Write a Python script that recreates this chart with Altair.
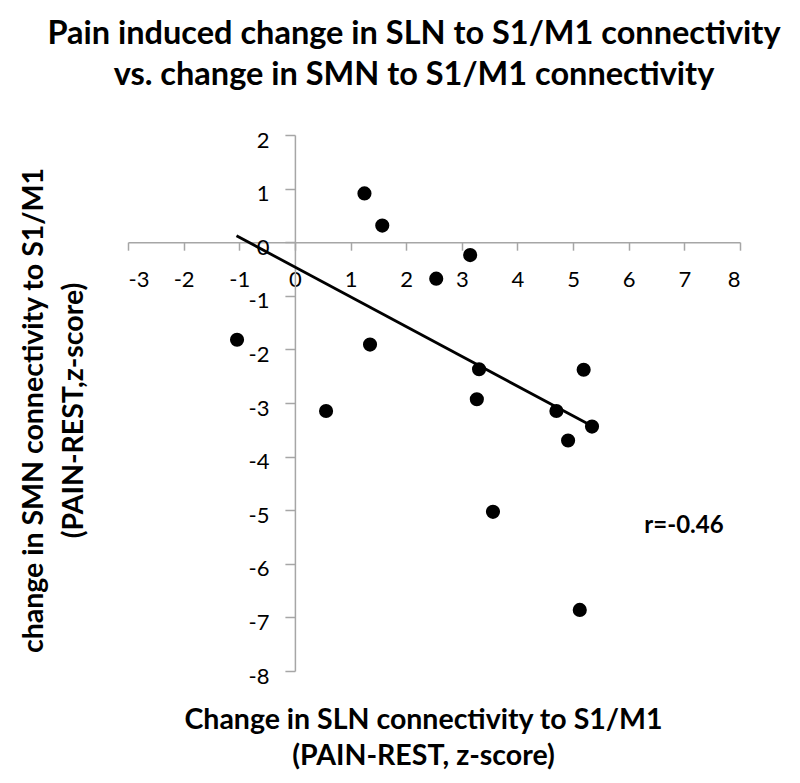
import altair as alt
import pandas as pd

# Data
sln_change = [1.25, 1.57, 3.15, 2.54, -1.04, 1.35, 3.31, 5.19, 3.27, 0.56, 4.70, 5.34, 4.91, 3.56, 5.12]
smn_change = [0.91, 0.31, -0.24, -0.68, -1.82, -1.91, -2.37, -2.38, -2.93, -3.15, -3.15, -3.44, -3.70, -5.03, -6.86]

trend_x = [-1.05, 5.34]
trend_y = [0.12, -3.43]

x_ticks = list(range(-3, 9))
y_ticks = list(range(-8, 3))

note_x = [6.28]
note_y = [-5.30]
note_text = ["r=-0.46"]

X_DOMAIN = [-3, 8]
Y_DOMAIN = [-8, 2]
W, H = 612, 536

# axes cross at origin: offsets computed from the scale domain
x_axis_offset = -(0 - Y_DOMAIN[0]) / (Y_DOMAIN[1] - Y_DOMAIN[0]) * H
y_axis_offset = -(0 - X_DOMAIN[0]) / (X_DOMAIN[1] - X_DOMAIN[0]) * W

points = pd.DataFrame({"x": sln_change, "y": smn_change})
trend = pd.DataFrame({"x": trend_x, "y": trend_y})
note = pd.DataFrame({"x": note_x, "y": note_y, "t": note_text})

FONT = "Lato"
AXIS_GRAY = "#a6a6a6"

xscale = alt.Scale(domain=X_DOMAIN, nice=False, zero=False)
yscale = alt.Scale(domain=Y_DOMAIN, nice=False, zero=False)

x_axis = alt.Axis(
    values=x_ticks, offset=x_axis_offset, grid=False,
    domainColor=AXIS_GRAY, domainWidth=1.5, tickColor=AXIS_GRAY, tickWidth=1.5, tickSize=8,
    labelFont=FONT, labelFontSize=22, labelColor="black", labelPadding=19,
    labelOverlap=False, labelExpr="'' + datum.value",
    title=["Change in SLN connectivity to S1/M1", "(PAIN-REST, z-score)"],
    titleFont=FONT, titleFontSize=28.5, titleFontWeight="bold", titleColor="black",
    titleLineHeight=36, titleBaseline="middle", titleAlign="center",
    titleX=295, titleY=477,
)
y_axis = alt.Axis(
    values=y_ticks, offset=y_axis_offset, grid=False,
    domainColor=AXIS_GRAY, domainWidth=1.5, tickColor=AXIS_GRAY, tickWidth=1.5, tickSize=10,
    labelFont=FONT, labelFontSize=22, labelColor="black", labelPadding=16, labelOffset=5,
    labelOverlap=False, labelExpr="'' + datum.value",
    title=["change in SMN connectivity to S1/M1", "(PAIN-REST,z-score)"],
    titleFont=FONT, titleFontSize=28.5, titleFontWeight="bold", titleColor="black",
    titleLineHeight=40, titleBaseline="middle", titleAlign="center", titleAngle=270,
    titleX=-261, titleY=275,
)

pts = alt.Chart(points).mark_circle(size=200, color="black", opacity=1).encode(
    x=alt.X("x:Q", scale=xscale, axis=x_axis),
    y=alt.Y("y:Q", scale=yscale, axis=y_axis),
)

line = alt.Chart(trend).mark_line(color="black", strokeWidth=2.8).encode(
    x=alt.X("x:Q", scale=xscale),
    y=alt.Y("y:Q", scale=yscale),
)

txt = alt.Chart(note).mark_text(
    align="left", baseline="middle", font=FONT, fontSize=24, fontWeight="bold", color="black"
).encode(
    x=alt.X("x:Q", scale=xscale),
    y=alt.Y("y:Q", scale=yscale),
    text="t:N",
)

chart = alt.layer(line, pts, txt).properties(
    width=W, height=H,
    background="white",
    autosize=alt.AutoSizeParams(type="none"),
    padding={"left": 120, "top": 127, "right": 52, "bottom": 104},
    title=alt.TitleParams(
        text=["Pain induced change in SLN to S1/M1 connectivity",
              "vs. change in SMN to S1/M1 connectivity"],
        font=FONT, fontSize=32.5, fontWeight="bold", color="black",
        anchor="middle", frame="group", lineHeight=41, offset=38, dx=-20,
    ),
).configure_view(stroke=None, strokeWidth=0)

chart.save("out.html", embed_options={"renderer": "svg", "actions": False})
